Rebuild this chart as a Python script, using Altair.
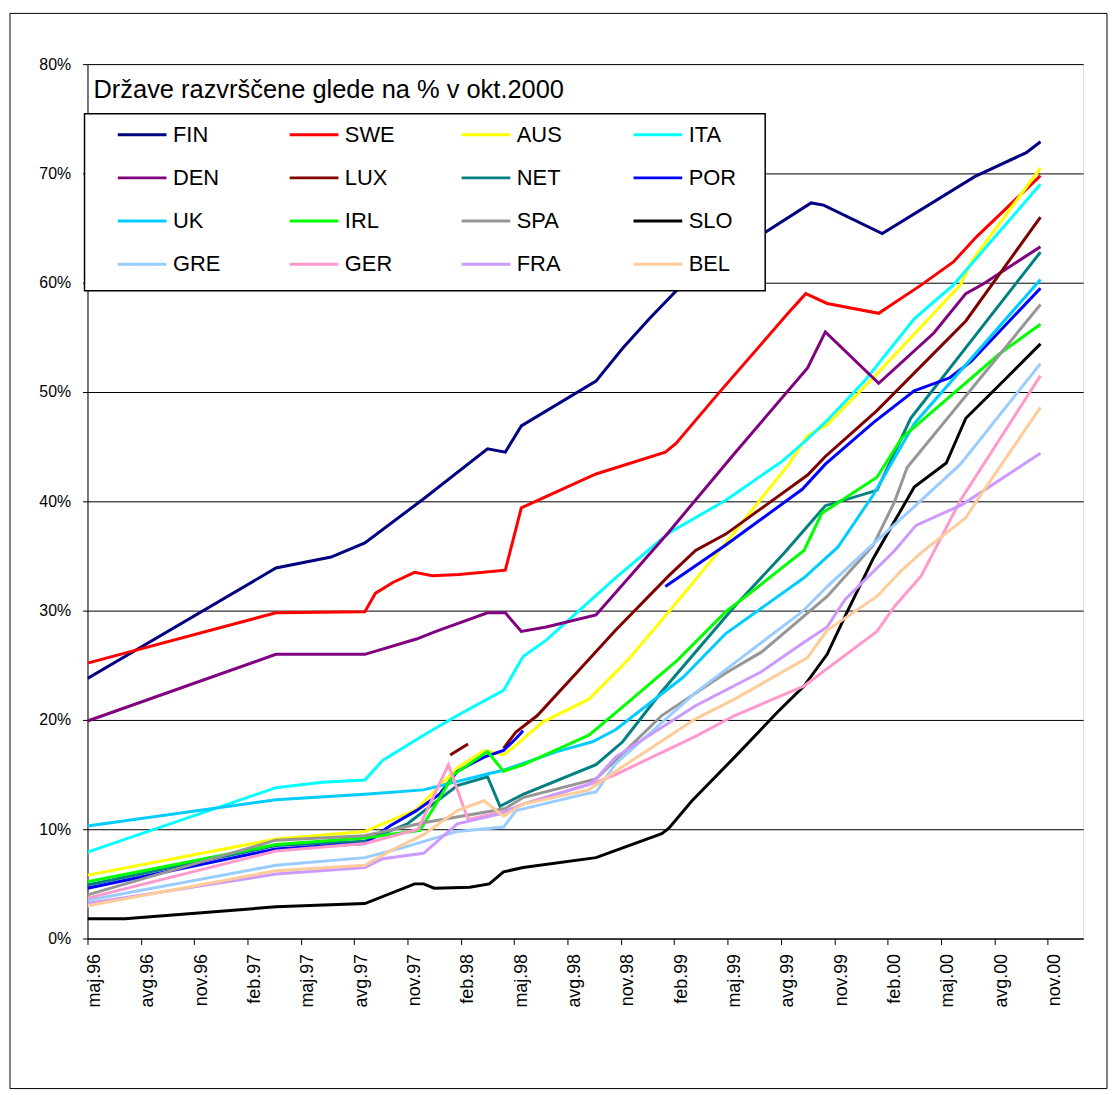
import json
import altair as alt
import pandas as pd

# ---- data (month index since maj.96, percent) ----
MONTH_LABELS = ["maj.96", "avg.96", "nov.96", "feb.97", "maj.97", "avg.97", "nov.97",
                "feb.98", "maj.98", "avg.98", "nov.98", "feb.99", "maj.99", "avg.99",
                "nov.99", "feb.00", "maj.00", "avg.00", "nov.00"]
TICK_MONTHS = [0, 3, 6, 9, 12, 15, 18, 21, 24, 27, 30, 33, 36, 39, 42, 45, 48, 51, 54]
Y_TICKS = [0, 10, 20, 30, 40, 50, 60, 70, 80]

COUNTRIES = ["FIN", "SWE", "AUS", "ITA", "DEN", "LUX", "NET", "POR",
             "UK", "IRL", "SPA", "SLO", "GRE", "GER", "FRA", "BEL"]
COLORS = ["#000080", "#FF0000", "#FFFF00", "#00FFFF", "#800080", "#800000", "#008080", "#0000FF",
          "#00CCFF", "#00FF00", "#969696", "#000000", "#99CCFF", "#FF99CC", "#CC99FF", "#FFCC99"]

FIN = [(0, 23.8), (10.6, 33.9), (13.7, 34.9), (15.6, 36.2), (18.8, 40.1), (22.5, 44.8), (23.5, 44.5),
       (24.4, 46.9), (28.6, 51.0), (30.1, 54.0), (31.6, 56.7), (33.2, 59.4), (38.1, 64.6), (40.7, 67.3),
       (41.4, 67.1), (44.7, 64.5), (49.9, 69.7), (52.8, 71.9), (53.6, 72.9)]
SWE = [(0, 25.2), (10.6, 29.8), (15.6, 29.9), (16.2, 31.6), (17.2, 32.6), (18.4, 33.5), (19.4, 33.2),
       (20.9, 33.3), (23.5, 33.7), (24.4, 39.4), (28.6, 42.5), (32.5, 44.5), (33.1, 45.3), (35.5, 49.9),
       (39.4, 57.2), (40.4, 59.0), (41.6, 58.1), (44.5, 57.2), (46.9, 59.8), (48.7, 61.9), (50.0, 64.2),
       (53.6, 69.8)]
AUS = [(0, 5.8), (10.6, 9.1), (15.6, 9.8), (18.5, 11.8), (20.8, 15.6), (22.3, 17.2), (23.4, 16.8),
       (24.1, 17.7), (25.6, 19.8), (28.2, 21.9), (30.4, 25.5), (32.7, 29.9), (35.9, 36.2), (39.4, 43.3),
       (40.5, 46.0), (41.6, 47.0), (44.2, 51.3), (49.1, 59.8), (49.7, 61.9), (53.6, 70.5)]
ITA = [(0, 7.9), (10.6, 13.8), (13.2, 14.3), (15.6, 14.5), (16.6, 16.3), (18.9, 18.6), (20.8, 20.4),
       (23.4, 22.7), (24.5, 25.8), (25.8, 27.3), (29.7, 33.0), (32.7, 37.1), (35.9, 40.1), (39.1, 43.7),
       (40.5, 45.7), (41.6, 47.4), (43.7, 51.0), (46.5, 56.7), (48.7, 59.8), (53.6, 69.0)]
DEN = [(0, 19.9), (10.6, 26.0), (15.6, 26.0), (18.5, 27.4), (19.6, 28.1), (22.5, 29.8), (23.5, 29.8),
       (24.4, 28.1), (25.8, 28.5), (28.6, 29.6), (32.7, 37.2), (36.4, 44.4), (40.5, 52.2), (41.5, 55.5),
       (44.5, 50.8), (47.6, 55.4), (49.4, 59.0), (50.4, 59.9), (53.6, 63.3)]
LUX = [(20.4, 16.8), (21.4, 17.8), None, (23.4, 17.4), (24.1, 18.9), (25.3, 20.4), (27.5, 24.3),
       (29.7, 28.2), (32.7, 33.2), (34.2, 35.5), (35.9, 37.0), (40.5, 42.4), (41.5, 44.1), (44.4, 48.3),
       (49.4, 56.5), (53.6, 66.0)]
NET = [(0, 4.9), (10.6, 8.5), (15.6, 8.9), (18.0, 10.5), (20.8, 14.0), (22.5, 14.8), (23.2, 12.1),
       (24.5, 13.2), (28.6, 15.9), (30.1, 18.0), (32.3, 22.6), (36.4, 30.4), (39.2, 35.3), (41.5, 39.6),
       (44.4, 41.0), (46.3, 47.6), (53.6, 62.8)]
POR = [(0, 4.6), (10.6, 8.2), (15.6, 8.7), (17.0, 10.3), (18.5, 11.7), (19.8, 13.2), (20.8, 15.3),
       (22.3, 16.6), (23.4, 17.2), (24.1, 18.3), (24.5, 19.0), None, (32.5, 32.2), (35.9, 36.0),
       (40.2, 41.1), (41.5, 43.4), (44.2, 47.2), (46.5, 50.1), (48.5, 51.3), (49.7, 52.8), (53.6, 59.5)]
UK = [(0, 10.3), (10.6, 12.7), (15.6, 13.2), (18.9, 13.6), (22.6, 15.1), (23.4, 15.4), (26.4, 17.1),
      (28.4, 18.0), (29.7, 19.1), (33.5, 23.9), (35.9, 27.9), (40.3, 33.0), (42.2, 35.8), (44.2, 40.6),
      (46.5, 47.1), (53.6, 60.3)]
IRL = [(0, 5.2), (10.6, 8.6), (15.6, 9.2), (18.7, 9.9), (20.6, 15.0), (22.5, 17.1), (23.4, 15.3),
       (24.5, 15.9), (28.2, 18.6), (30.4, 21.6), (33.2, 25.5), (35.9, 29.9), (37.5, 31.9), (40.3, 35.5),
       (41.3, 38.9), (44.4, 42.2), (45.8, 45.8), (51.3, 53.5), (53.6, 56.2)]
SPA = [(0, 4.0), (10.6, 9.0), (15.6, 9.4), (18.9, 10.6), (22.5, 11.6), (23.5, 11.9), (24.5, 12.9),
       (28.6, 14.6), (30.4, 17.4), (32.3, 20.4), (35.9, 24.3), (37.9, 26.2), (41.6, 31.3), (44.2, 36.0),
       (45.4, 40.0), (46.1, 43.1), (53.6, 58.0)]
SLO = [(0, 1.8), (2.1, 1.8), (10.6, 2.9), (15.6, 3.2), (18.4, 5.0), (18.9, 5.0), (19.5, 4.6),
       (21.5, 4.7), (22.6, 5.0), (23.4, 6.1), (24.5, 6.5), (28.6, 7.4), (32.3, 9.6), (32.7, 10.1),
       (34.0, 12.6), (36.4, 16.6), (38.8, 20.7), (40.3, 23.1), (41.6, 26.0), (42.7, 29.8), (44.2, 34.8),
       (45.4, 38.2), (46.5, 41.3), (48.3, 43.5), (49.4, 47.6), (51.7, 51.3), (53.6, 54.4)]
GRE = [(0, 3.5), (10.6, 6.7), (15.6, 7.4), (17.7, 8.3), (20.8, 9.8), (23.4, 10.2), (24.1, 11.7),
       (28.2, 13.3), (28.6, 13.4), (29.7, 16.0), (34.2, 22.5), (35.9, 24.6), (40.2, 29.9), (41.6, 32.2),
       (44.2, 36.1), (46.9, 40.1), (49.1, 43.4), (53.6, 52.6)]
GER = [(0, 3.7), (10.6, 8.0), (15.6, 8.7), (18.6, 10.0), (20.3, 15.9), (21.4, 10.9), (23.4, 11.6),
       (24.5, 12.3), (28.6, 14.3), (29.7, 15.0), (34.2, 18.5), (36.4, 20.4), (40.3, 23.1), (44.4, 28.1),
       (45.4, 30.4), (46.9, 33.2), (49.1, 40.1), (53.6, 51.5)]
FRA = [(0, 3.2), (10.6, 5.9), (15.6, 6.5), (16.6, 7.3), (18.9, 7.8), (20.8, 10.5), (23.2, 11.4),
       (24.5, 12.3), (28.2, 14.1), (28.6, 14.6), (29.7, 16.6), (34.2, 21.3), (37.9, 24.4), (40.3, 27.1),
       (41.6, 28.5), (42.6, 31.0), (45.4, 35.5), (46.6, 37.8), (49.2, 39.7), (53.6, 44.4)]
BEL = [(0, 3.0), (10.6, 6.2), (15.6, 6.7), (17.0, 8.0), (18.9, 9.5), (20.8, 11.7), (22.3, 12.6),
       (23.4, 11.2), (24.5, 12.3), (28.2, 13.6), (29.7, 15.3), (34.2, 20.1), (36.4, 21.9), (40.5, 25.7),
       (41.6, 28.2), (44.4, 31.3), (45.8, 33.7), (46.9, 35.3), (49.4, 38.5), (50.2, 40.5), (53.6, 48.6)]

TITLE_TEXT = "Države razvrščene glede na % v okt.2000"

SERIES = {"FIN": FIN, "SWE": SWE, "AUS": AUS, "ITA": ITA, "DEN": DEN, "LUX": LUX, "NET": NET,
          "POR": POR, "UK": UK, "IRL": IRL, "SPA": SPA, "SLO": SLO, "GRE": GRE, "GER": GER,
          "FRA": FRA, "BEL": BEL}

rows = []
for c in COUNTRIES:
    seg = 0
    for i, p in enumerate(SERIES[c]):
        if p is None:
            seg += 1
            continue
        rows.append({"country": c, "seg": f"{c}_{seg}", "m": p[0], "v": p[1], "i": i})
df = pd.DataFrame(rows)

FONT = "Liberation Sans"
label_expr = json.dumps(MONTH_LABELS) + "[round(datum.value / 3)]"

lines = alt.Chart(df).mark_line(strokeWidth=3, clip=True).encode(
    x=alt.X("m:Q",
            scale=alt.Scale(domain=[0, 56], nice=False, zero=False),
            axis=alt.Axis(values=TICK_MONTHS, labelExpr=label_expr, labelAngle=270,
                          title=None, grid=False, tickSize=6, labelPadding=9, labelOffset=7,
                          labelFontSize=18, labelFont=FONT, labelColor="black",
                          domainColor="black", tickColor="black", labelOverlap=False)),
    y=alt.Y("v:Q",
            scale=alt.Scale(domain=[0, 80], nice=False),
            axis=alt.Axis(values=Y_TICKS, labelExpr="datum.value + '%'", title=None,
                          grid=True, gridColor="black", gridWidth=1, gridOpacity=1,
                          tickSize=5, labelPadding=12, labelFontSize=16, labelFont=FONT,
                          labelColor="black", domainColor="black", tickColor="black")),
    color=alt.Color("country:N",
                    scale=alt.Scale(domain=COUNTRIES, range=COLORS),
                    legend=alt.Legend(orient="none", legendX=-3, legendY=50, columns=4,
                                      direction="horizontal",
                                      title=None, symbolType="stroke", symbolStrokeWidth=3,
                                      symbolSize=2401, clipHeight=26, labelFontSize=22,
                                      labelFont=FONT, labelColor="black", labelOffset=5,
                                      symbolOffset=24, padding=8, rowPadding=17.5,
                                      columnPadding=41, gridAlign="all", labelLimit=0)),
    detail="seg:N",
    order="i:Q",
)

one = pd.DataFrame({"k": [0]})
frame = alt.Chart(one).mark_rect(fillOpacity=0, stroke="black", strokeWidth=1).encode(
    x=alt.value(-78), x2=alt.value(1026), y=alt.value(-51), y2=alt.value(1031))
legend_box = alt.Chart(one).mark_rect(fill="white", stroke="black", strokeWidth=1.5).encode(
    x=alt.value(-3), x2=alt.value(682), y=alt.value(50), y2=alt.value(228))
title = alt.Chart(one).mark_text(align="left", baseline="alphabetic", fontSize=25.6, font=FONT,
                                 color="black").encode(
    x=alt.value(6), y=alt.value(34), text=alt.value(TITLE_TEXT))

chart = alt.layer(frame, lines, legend_box, title).properties(
    width=1002, height=880,
    padding={"left": 80, "top": 53, "right": 25, "bottom": 153},
    autosize=alt.AutoSizeParams(type="none"),
).configure_view(stroke="#808080", strokeWidth=1).configure(background="white")

chart.save("out.html", embed_options={"renderer": "svg", "actions": False})
